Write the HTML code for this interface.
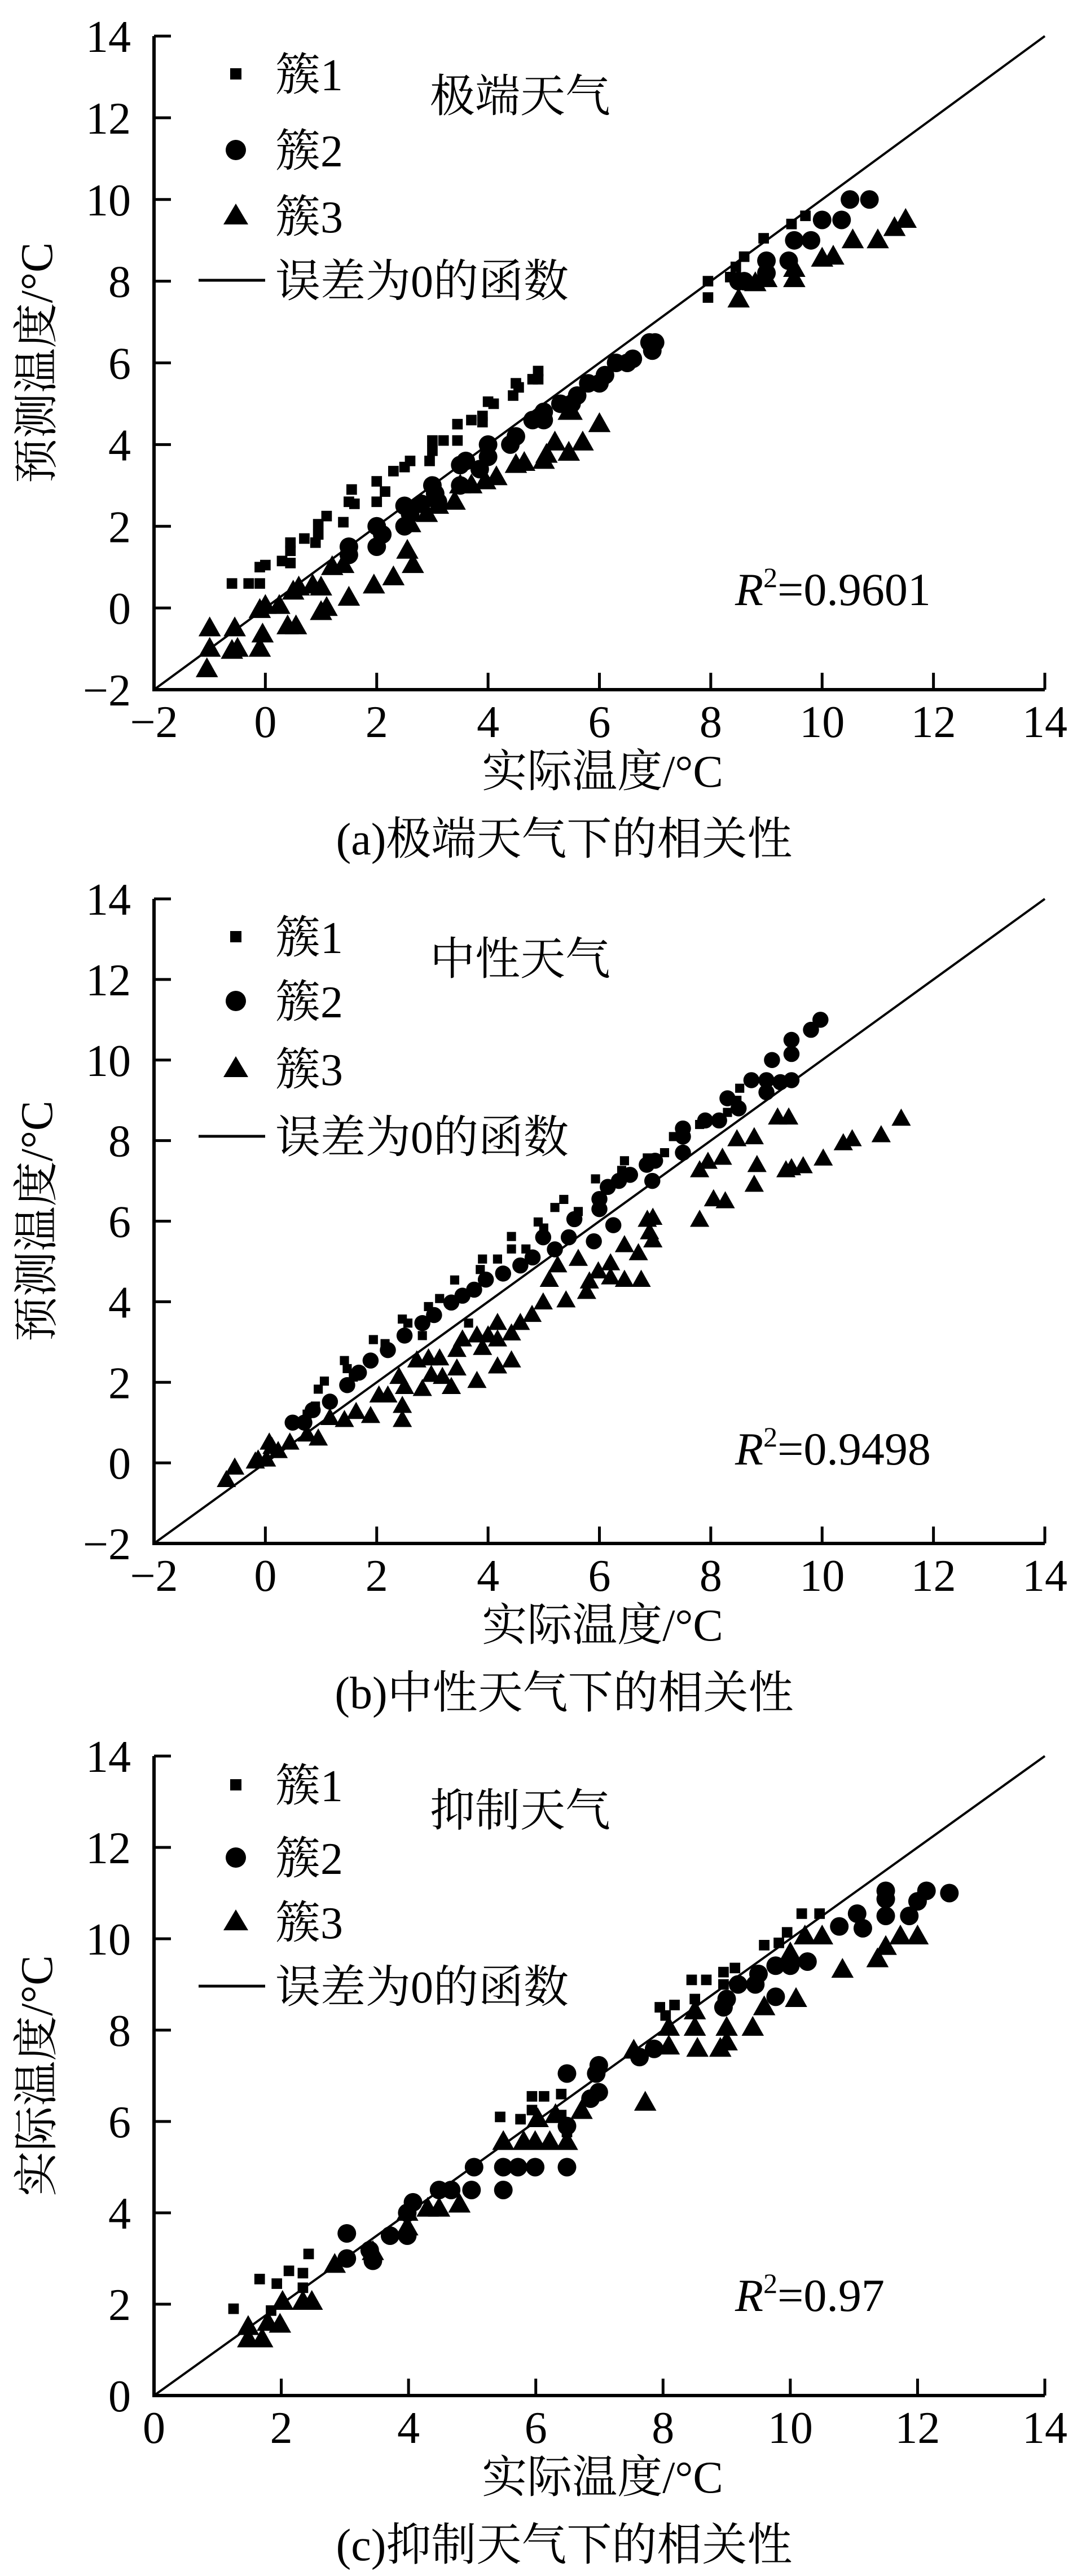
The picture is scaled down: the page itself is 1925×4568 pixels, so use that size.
<!DOCTYPE html>
<html><head><meta charset="utf-8">
<style>
html,body{margin:0;padding:0;background:#fff;}
svg{display:block;}
text{font-family:"Liberation Serif","Noto Serif CJK SC","Noto Sans CJK SC",serif;fill:#000;}
</style></head>
<body>
<svg id="fig" width="1925" height="4568" viewBox="0 0 1925 4568" xmlns="http://www.w3.org/2000/svg"></svg>
<script>
// ---------- Panel (a) 极端天气 ----------
const aC1x=[-0.6,-0.3,-0.1,-0.1,0,0.3,0.45,0.45,0.45,0.7,0.9,0.95,0.95,1.1,1.4,1.5,1.55,1.6,2.0,2.0,2.15,2.3,2.5,2.6,2.95,3.0,3.0,3.2,3.45,3.45,3.7,3.9,3.9,4.0,4.1,4.45,4.5,4.55,4.8,4.9,4.9,7.95,7.95,8.35,8.45,8.6,8.95,9.45,9.7];
const aC1y=[0.6,0.6,0.6,1.0,1.05,1.15,1.1,1.4,1.6,1.7,1.6,1.8,2.05,2.25,2.1,2.6,2.9,2.55,2.6,3.1,2.85,3.35,3.45,3.6,3.6,3.85,4.1,4.1,4.1,4.5,4.6,4.55,4.7,5.05,5.0,5.2,5.5,5.4,5.6,5.6,5.8,7.6,8.0,8.1,8.35,8.6,9.05,9.4,9.6];
const aC2x=[1.5,1.5,2.0,2.0,2.1,2.5,2.5,2.6,2.8,3.0,3.05,3.1,3.5,3.6,3.5,3.85,4.0,4.0,4.4,4.5,4.8,5.0,5.0,5.3,5.5,5.6,5.8,6.0,6.1,6.3,6.5,6.6,6.9,7.0,6.95,8.5,8.6,9.0,9.0,9.4,9.5,9.8,10.0,10.35,10.5,10.85];
const aC2y=[1.5,1.3,1.5,2.0,1.8,2.5,2.0,2.3,2.55,3.0,2.8,2.6,3.5,3.6,3.0,3.4,4.0,3.7,4.0,4.2,4.6,4.6,4.8,5.0,5.0,5.2,5.5,5.5,5.7,6.0,6.0,6.1,6.5,6.5,6.3,8.0,8.0,8.2,8.5,8.5,9.0,9.0,9.5,9.5,10.0,10.0];
const aC3x=[-1,-1,-1.05,-0.55,-0.5,-0.6,-0.1,0,-0.05,-0.1,0.25,0.5,0.6,0.4,0.55,0.85,1.0,1.0,1.1,1.2,1.4,1.5,1.95,2.3,2.55,2.65,2.6,2.9,3.1,3.4,3.5,3.7,3.95,4.15,4.5,4.65,5.0,5.05,5.2,5.45,5.45,5.5,5.7,6.0,8.5,8.8,9.0,9.5,9.5,10.0,10.2,10.55,11.0,11.3,11.5];
const aC3y=[-0.5,-1.0,-1.5,-0.5,-1.0,-1.05,-0.05,0.05,-0.65,-1.0,0.05,0.4,0.5,-0.45,-0.45,0.55,0.5,-0.1,0.0,1.0,1.05,0.25,0.55,0.75,1.4,1.05,2.05,2.3,2.5,2.6,3.0,3.0,3.1,3.2,3.5,3.55,3.6,3.75,4.05,3.8,4.8,4.8,4.05,4.5,7.55,7.95,8.05,8.05,8.3,8.55,8.6,9.0,9.0,9.3,9.5];
// ---------- Panel (b) 中性天气 ----------
const bC1x=[8.52,8.47,8.3,7.8,7.33,7.17,6.86,6.45,6.4,5.93,5.36,5.2,4.9,5.0,4.42,4.42,4.17,3.9,3.86,3.4,3.13,2.93,2.46,2.56,1.94,2.15,1.42,1.58,1.06,0.95,1.16,0.9,0.75,1.47,2.82,3.65,4.68,5.62];
const bC1y=[9.3,9.0,8.7,8.4,8.1,7.7,7.57,7.5,7.26,7.05,6.54,6.34,5.98,5.83,5.62,5.31,5.06,5.06,4.8,4.54,4.08,3.88,3.57,3.47,3.06,2.96,2.54,2.13,2.03,1.83,1.52,1.41,1.21,2.34,3.16,3.47,5.31,6.24];
const bC2x=[9.97,9.8,9.45,9.45,9.1,8.73,9.0,9.0,9.45,9.25,8.3,8.5,7.9,8.15,7.5,7.5,7.5,7.0,6.85,6.95,6.55,6.35,6.15,6.0,6.0,6.25,5.9,5.55,5.45,5.2,4.99,4.8,4.58,4.27,3.96,3.75,3.54,3.34,3.03,2.82,2.5,2.2,1.89,1.68,1.47,1.16,0.85,0.49,0.7];
const bC2y=[11.0,10.75,10.5,10.15,10.0,9.5,9.5,9.2,9.5,9.45,9.05,8.8,8.5,8.5,8.3,8.1,7.7,7.5,7.4,7.0,7.15,7.0,6.85,6.55,6.3,5.9,5.5,6.05,5.6,5.3,5.6,5.1,4.9,4.7,4.55,4.3,4.15,3.98,3.67,3.47,3.16,2.8,2.54,2.24,1.93,1.52,1.31,1.0,1.0];
const bC3x=[11.42,11.06,10.54,10.38,10.02,9.66,9.45,9.35,9.4,9.2,8.83,8.78,8.78,8.47,8.21,7.95,7.8,8.26,8.05,7.8,6.96,6.86,6.96,6.9,6.7,6.75,6.45,6.2,6.2,6.45,5.98,5.82,5.77,5.62,5.25,5.4,4.99,5.1,4.79,4.58,4.42,4.17,4.17,4.42,4.17,3.8,3.9,4.0,3.8,3.54,3.44,3.44,3.34,3.18,3.13,2.93,2.72,2.98,2.82,2.5,2.4,2.46,2.46,2.2,2.04,1.89,1.63,1.42,1.16,0.95,0.75,0.44,0.07,0.23,0.02,-0.13,-0.18,-0.55,-0.7,0.12];
const bC3y=[8.54,8.13,8.03,7.93,7.55,7.36,7.31,7.26,8.57,8.57,7.39,6.9,8.08,8.03,7.57,7.47,7.26,6.49,6.54,6.03,6.08,6.03,5.52,5.72,5.2,4.54,4.54,4.6,4.95,5.4,4.75,4.5,4.24,5.06,4.9,4.03,3.98,4.54,3.67,3.47,3.21,3.47,3.06,2.54,2.39,2.03,2.85,3.16,3.16,3.06,2.8,2.34,1.88,2.13,2.59,2.59,2.54,2.18,1.83,1.88,2.13,1.41,1.06,1.67,1.67,1.16,1.26,1.06,1.11,0.6,0.7,0.5,0.5,0.29,0.08,0.08,0.03,-0.12,-0.43,0.39];
// ---------- Panel (c) 抑制天气 ----------
const cC1x=[1.25,1.66,1.93,2.12,2.43,2.34,2.34,1.84,4.48,5.44,5.76,5.94,5.94,6.13,6.4,6.4,6.49,7.95,8.18,8.04,8.45,8.68,8.95,9.13,9.59,9.82,9.95,10.18,10.46,8.5,8.95];
const cC1y=[1.9,2.55,2.45,2.73,3.1,2.68,2.36,1.86,4.5,6.1,6.05,6.55,6.25,6.55,6.14,6.6,5.77,8.5,8.55,8.32,9.1,9.1,9.27,9.36,9.86,9.91,10.14,10.55,10.55,8.68,9.0];
const cC2x=[3.03,3.03,3.39,3.44,3.71,3.98,3.98,4.07,4.48,4.67,4.99,5.03,5.49,5.49,5.72,5.99,6.49,6.49,6.49,6.86,6.99,6.95,6.99,7.63,7.86,8.95,9.0,9.18,9.45,9.5,9.77,9.77,10.0,10.27,10.77,11.05,11.14,11.5,11.5,11.5,11.87,12.0,12.14,12.5];
const cC2y=[3.55,3.0,3.18,2.95,3.5,3.5,4.0,4.23,4.5,4.5,4.5,5.0,5.0,4.5,5.0,5.0,5.0,5.9,7.05,6.5,6.64,7.05,7.23,7.41,7.59,8.5,8.68,9.0,9.0,9.23,9.41,8.73,9.41,9.5,10.27,10.55,10.23,11.05,10.87,10.5,10.5,10.82,11.05,11.0];
const cC3x=[1.48,1.48,1.7,1.79,1.98,2.02,2.34,2.48,2.84,3.44,3.98,3.98,4.3,4.48,4.8,5.49,5.81,5.99,6.22,6.49,6.03,6.31,6.72,7.54,7.72,8.09,8.09,8.5,8.5,8.54,8.9,9.0,9.0,9.41,9.59,10.0,10.09,10.23,10.5,10.82,11.37,11.5,11.73,12.0];
const cC3y=[1.5,1.23,1.23,1.59,1.55,2.05,2.05,2.05,2.86,3.14,3.68,4.0,4.09,4.09,4.18,5.55,5.55,5.55,5.55,5.55,6.05,6.14,6.23,7.55,6.41,8.05,7.64,8.41,8.05,7.59,7.59,8.05,7.73,8.05,8.5,9.68,8.68,10.05,10.05,9.32,9.55,9.82,10.05,10.05];

const xTicksAB=[-2,0,2,4,6,8,10,12,14];
const yTicksAB=[-2,0,2,4,6,8,10,12,14];
const yTicksC=[0,2,4,6,8,10,12,14];
const legendLabels=["簇1","簇2","簇3","误差为0的函数"];

const NS="http://www.w3.org/2000/svg";
const svg=document.getElementById('fig');
function mk(tag,attrs,parent){const e=document.createElementNS(NS,tag);for(const k in attrs)e.setAttribute(k,attrs[k]);(parent||svg).appendChild(e);return e;}

const L=273,R=1852;
const panels=[
 {key:'a',top:64,bot:1223,ymin:-2,ymax:14,yt:yTicksAB,xt:xTicksAB,xmin:-2,title:'极端天气',ylab:'预测温度/°C',r2:'0.9601',cap:'(a)极端天气下的相关性',
  c1x:aC1x,c1y:aC1y,c2x:aC2x,c2y:aC2y,c3x:aC3x,c3y:aC3y,leg:[131,266,383,497],tY:169,r2Y:1044,ms:1.1},
 {key:'b',top:1594,bot:2737,ymin:-2,ymax:14,yt:yTicksAB,xt:xTicksAB,xmin:-2,title:'中性天气',ylab:'预测温度/°C',r2:'0.9498',cap:'(b)中性天气下的相关性',
  c1x:bC1x,c1y:bC1y,c2x:bC2x,c2y:bC2y,c3x:bC3x,c3y:bC3y,leg:[1661,1775,1895,2015],tY:1699,r2Y:2568,ms:0.95},
 {key:'c',top:3114,bot:4248,ymin:0,ymax:14,yt:yTicksC,xt:[0,2,4,6,8,10,12,14],xmin:0,title:'抑制天气',ylab:'实际温度/°C',r2:'0.97',cap:'(c)抑制天气下的相关性',
  c1x:cC1x,c1y:cC1y,c2x:cC2x,c2y:cC2y,c3x:cC3x,c3y:cC3y,leg:[3165,3294,3408,3522],tY:3209,r2Y:4069,ms:1.1}
];

panels.forEach(p=>{
  const g=mk('g',{});
  
  
  const sx=v=>L+(v-p.xmin)/(14-p.xmin)*(R-L);
  const sy=v=>p.bot-(v-p.ymin)/(p.ymax-p.ymin)*(p.bot-p.top);
  const ax=mk('path',{d:`M${L},${p.top} L${L},${p.bot} L${R},${p.bot}`,fill:'none',stroke:'#000','stroke-width':6},g);
  
  
  p.yt.forEach(t=>{
    const y=sy(t);
    if(t!==p.ymin){const tk=mk('line',{x1:L,y1:y,x2:L+30,y2:y,stroke:'#000','stroke-width':5},g);
      }
    const tx=mk('text',{x:232,y:y+28,'text-anchor':'end','font-size':80},g);
    tx.textContent=(t<0?'\u2212':'')+Math.abs(t);
    
    
  });
  p.xt.forEach(t=>{
    const x=sx(t);
    if(t!==p.xmin){const tk=mk('line',{x1:x,y1:p.bot,x2:x,y2:p.bot-30,stroke:'#000','stroke-width':5},g);
      }
    const tx=mk('text',{x:x,y:p.bot+84,'text-anchor':'middle','font-size':80},g);
    tx.textContent=(t<0?'\u2212':'')+Math.abs(t);
    
    
  });
  const d0=Math.max(p.xmin,p.ymin);
  const il=mk('line',{x1:sx(d0),y1:sy(d0),x2:sx(14),y2:sy(14),stroke:'#000','stroke-width':4},g);
  
  
  const m=p.ms;
  p.c1x.forEach((v,i)=>{
    const s=17*m;
    const r=mk('rect',{x:sx(v)-s/2,y:sy(p.c1y[i])-s/2,width:s,height:s,fill:'#000'},g);
    
    
  });
  p.c2x.forEach((v,i)=>{
    const c=mk('circle',{cx:sx(v),cy:sy(p.c2y[i]),r:15*m,fill:'#000'},g);
    
    
  });
  p.c3x.forEach((v,i)=>{
    const x=sx(v),y=sy(p.c3y[i]),h=32*m,w=36*m;
    const t=mk('polygon',{points:`${x},${y-h*0.6} ${x-w/2},${y+h*0.4} ${x+w/2},${y+h*0.4}`,fill:'#000'},g);
    
    
  });
  const lg=mk('g',{},g);
  
  
  const lx=418;
  mk('rect',{x:lx-10,y:p.leg[0]-10,width:20,height:20,fill:'#000'},lg);
  mk('circle',{cx:lx,cy:p.leg[1],r:18,fill:'#000'},lg);
  mk('polygon',{points:`${lx},${p.leg[2]-22} ${lx-22},${p.leg[2]+15} ${lx+22},${p.leg[2]+15}`,fill:'#000'},lg);
  mk('line',{x1:352,y1:p.leg[3],x2:470,y2:p.leg[3],stroke:'#000','stroke-width':5},lg);
  legendLabels.forEach((s,i)=>{
    const t=mk('text',{x:488,y:p.leg[i]+29,'font-size':80},lg);
    t.textContent=s;
    
    
  });
  const tt=mk('text',{x:762,y:p.tY+29,'font-size':80},g);
  tt.textContent=p.title;
  
  
  const r2=mk('text',{x:1303,y:p.r2Y+29,'font-size':82},g);
  r2.innerHTML='<tspan font-style="italic">R</tspan><tspan font-size="50" dy="-32">2</tspan><tspan dy="32">='+p.r2+'</tspan>';
  
  
  const xl=mk('text',{x:1068,y:p.bot+172,'text-anchor':'middle','font-size':80},g);
  xl.textContent='实际温度/°C';
  
  
  const cy=(p.top+p.bot)/2;
  const yl=mk('text',{x:0,y:0,'text-anchor':'middle','font-size':80,transform:`translate(92,${cy}) rotate(-90)`},g);
  yl.textContent=p.ylab;
  
  
  const cp=mk('text',{x:1000,y:p.bot+292,'text-anchor':'middle','font-size':80},g);
  cp.textContent=p.cap;
  
  
});
</script>
</body></html>
